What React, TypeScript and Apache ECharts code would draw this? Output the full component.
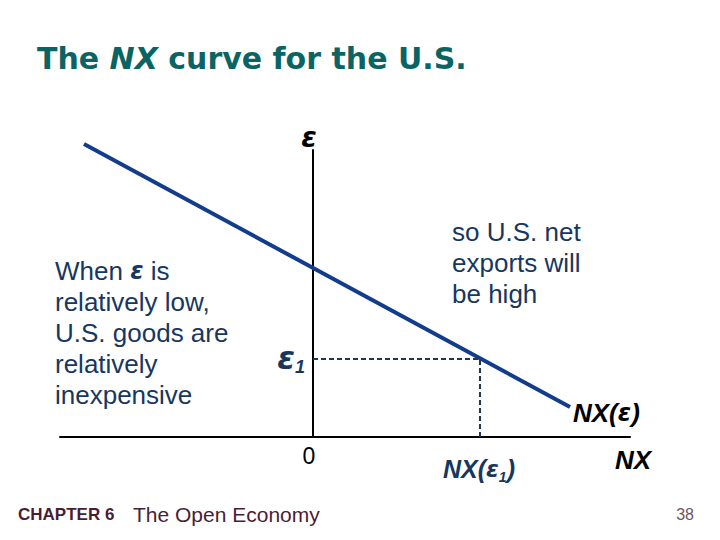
import React, { useEffect, useRef } from "react";
import * as echarts from "echarts";

// NX curve end points (NX on horizontal axis, real exchange rate ε on vertical axis)
const nxPoints = [-22.9, 25.7];
const epsPoints = [29.3, 3.0];
// the chosen point ε1 and NX(ε1)
const nx1 = 16.7;
const eps1 = 7.8;
// axis extents
const nxRange = [-25.3, 31.7];
const epsRange = [0, 28.7];

const leftText = ["When {e|ε} is", "relatively low,", "U.S. goods are", "relatively", "inexpensive"];
const rightText = ["so U.S. net", "exports will", "be high"];

export default function App() {
  const ref = useRef<HTMLDivElement>(null);
  useEffect(() => {
    const chart = echarts.init(ref.current!, null, { renderer: "svg" });
    const navy = "#17375e";
    const sans = "'Liberation Sans', Arial, sans-serif";
    const greek = "'DejaVu Sans', sans-serif";
    const axisCommon = {
      type: "value",
      axisLine: { show: true, onZero: true, lineStyle: { color: "#000000", width: 2 } },
      axisTick: { show: false },
      axisLabel: { show: false },
      splitLine: { show: false },
    };
    const bodyRich = (fill: string) => ({
      t: { fontFamily: sans, fontSize: 26, fill, lineHeight: 31 },
      e: { fontFamily: greek, fontSize: 24, fontWeight: "bold", fontStyle: "italic", fill, lineHeight: 31 },
    });
    const para = (lines: string[]) =>
      lines.map((l) => l.split(/(\{e\|ε\})/).filter((s) => s.length).map((s) => (s.startsWith("{e|") ? s : `{t|${s}}`)).join("")).join("\n");

    chart.setOption({
      animation: false,
      backgroundColor: "#ffffff",
      grid: { left: 60, top: 150, width: 570, height: 287 },
      xAxis: { ...axisCommon, min: nxRange[0], max: nxRange[1] },
      yAxis: { ...axisCommon, min: epsRange[0], max: epsRange[1] },
      series: [
        {
          type: "line",
          data: nxPoints.map((x, i) => [x, epsPoints[i]]),
          symbol: "none",
          clip: false,
          lineStyle: { color: "#123c8c", width: 4 },
          silent: true,
        },
        {
          type: "line",
          data: [
            [0, eps1],
            [nx1, eps1],
            [nx1, 0],
          ],
          symbol: "none",
          lineStyle: { color: "#1b3656", width: 2, type: [5, 3] },
          silent: true,
        },
      ],
      graphic: [
        {
          type: "text",
          x: 37,
          y: 58,
          style: {
            text: "{a|The }{b|NX}{a| curve for the U.S.}",
            verticalAlign: "middle",
            textVerticalAlign: "middle",
            rich: {
              a: { fontFamily: "'DejaVu Sans', sans-serif", fontSize: 30, fontWeight: "bold", fill: "#0b6464" },
              b: { fontFamily: "'DejaVu Sans', sans-serif", fontSize: 30, fontWeight: "bold", fontStyle: "italic", fill: "#0b6464" },
            },
          },
        },
        {
          type: "text",
          x: 55,
          y: 255,
          style: { text: para(leftText), verticalAlign: "top", textVerticalAlign: "top", rich: bodyRich(navy) },
        },
        {
          type: "text",
          x: 452,
          y: 216,
          style: { text: para(rightText), verticalAlign: "top", textVerticalAlign: "top", rich: bodyRich(navy) },
        },
        {
          type: "text",
          x: 309,
          y: 137,
          style: {
            text: "ε",
            align: "center",
            textAlign: "center",
            verticalAlign: "middle",
            textVerticalAlign: "middle",
            fontFamily: greek,
            fontSize: 28,
            fontWeight: "bold",
            fontStyle: "italic",
            fill: "#000000",
          },
        },
        {
          type: "text",
          x: 305,
          y: 358,
          style: {
            text: "{e|ε}{s|1}",
            align: "right",
            textAlign: "right",
            verticalAlign: "middle",
            textVerticalAlign: "middle",
            rich: {
              e: { fontFamily: greek, fontSize: 32, fontWeight: "bold", fontStyle: "italic", fill: navy, lineHeight: 36 },
              s: { fontFamily: sans, fontSize: 18, fontWeight: "bold", fontStyle: "italic", fill: navy, lineHeight: 14, verticalAlign: "bottom" },
            },
          },
        },
        {
          type: "text",
          x: 309,
          y: 456,
          style: {
            text: "0",
            align: "center",
            textAlign: "center",
            verticalAlign: "middle",
            textVerticalAlign: "middle",
            fontFamily: sans,
            fontSize: 23,
            fill: "#000000",
          },
        },
        {
          type: "text",
          x: 443,
          y: 469,
          style: {
            text: "{n|NX(}{e|ε}{s|1}{n|)}",
            verticalAlign: "middle",
            textVerticalAlign: "middle",
            rich: {
              n: { fontFamily: sans, fontSize: 25, fontWeight: "bold", fontStyle: "italic", fill: navy, lineHeight: 30 },
              e: { fontFamily: greek, fontSize: 23, fontWeight: "bold", fontStyle: "italic", fill: navy, lineHeight: 30 },
              s: { fontFamily: sans, fontSize: 14, fontWeight: "bold", fontStyle: "italic", fill: navy, lineHeight: 12, verticalAlign: "bottom" },
            },
          },
        },
        {
          type: "text",
          x: 573,
          y: 413,
          style: {
            text: "{n|NX(}{e|ε}{n|)}",
            verticalAlign: "middle",
            textVerticalAlign: "middle",
            rich: {
              n: { fontFamily: sans, fontSize: 26, fontWeight: "bold", fontStyle: "italic", fill: "#000000" },
              e: { fontFamily: greek, fontSize: 24, fontWeight: "bold", fontStyle: "italic", fill: "#000000" },
            },
          },
        },
        {
          type: "text",
          x: 615,
          y: 460,
          style: {
            text: "NX",
            verticalAlign: "middle",
            textVerticalAlign: "middle",
            fontFamily: sans,
            fontSize: 26,
            fontWeight: "bold",
            fontStyle: "italic",
            fill: "#000000",
          },
        },
        {
          type: "text",
          x: 18,
          y: 514,
          style: {
            text: "CHAPTER 6",
            verticalAlign: "middle",
            textVerticalAlign: "middle",
            fontFamily: sans,
            fontSize: 17,
            fontWeight: "bold",
            fill: "#4a1d35",
          },
        },
        {
          type: "text",
          x: 133,
          y: 514,
          style: {
            text: "The Open Economy",
            verticalAlign: "middle",
            textVerticalAlign: "middle",
            fontFamily: sans,
            fontSize: 21,
            fill: "#4a1d35",
          },
        },
        {
          type: "text",
          x: 694,
          y: 514,
          style: {
            text: "38",
            align: "right",
            textAlign: "right",
            verticalAlign: "middle",
            textVerticalAlign: "middle",
            fontFamily: sans,
            fontSize: 16,
            fill: "#6e5364",
          },
        },
      ],
    });
    return () => chart.dispose();
  }, []);
  return <div ref={ref} style={{ position: "fixed", left: 0, top: 0, width: 720, height: 540 }} />;
}
